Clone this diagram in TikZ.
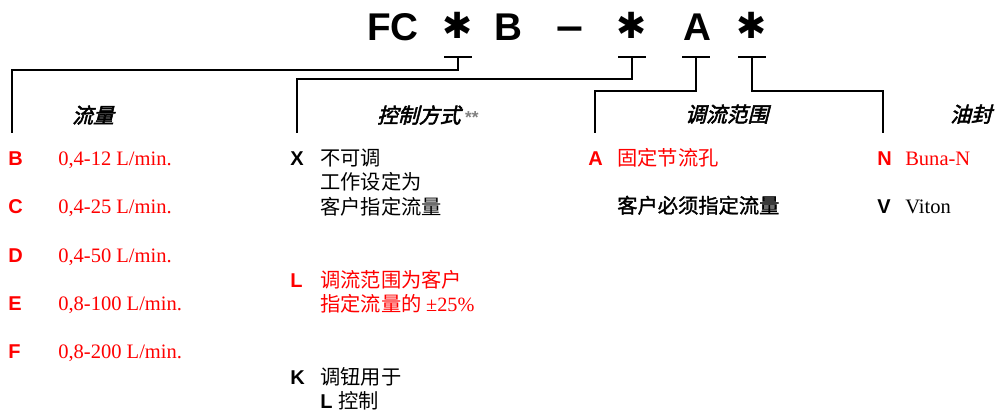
\documentclass[tikz,border=0pt]{standalone}
\usepackage{fontspec}
\setmainfont{Liberation Serif}
\newfontfamily\sanslbl{Liberation Sans}
\newfontfamily\cjkfont{Noto Sans CJK SC}
\newfontfamily\cjkbold[FakeBold=1.5]{Noto Sans CJK SC}
\newfontfamily\cjkhead[FakeBold=2.5,FakeSlant=0.25]{Noto Sans CJK SC}
\newfontfamily\starfont{DejaVu Sans}
\definecolor{codered}{RGB}{255,0,0}
\tikzset{
  tline/.style={line width=2.2pt, line join=miter},
  codechar/.style={font=\sanslbl\bfseries\fontsize{29}{32}\selectfont, inner sep=0pt, anchor=base},
  starchar/.style={font=\starfont\bfseries\fontsize{27}{30}\selectfont, inner sep=0pt},
  letterlbl/.style={font=\sanslbl\bfseries\fontsize{15}{18}\selectfont, inner sep=0pt, anchor=base west},
  valtxt/.style={font=\fontsize{15.4}{18}\selectfont, inner sep=0pt, anchor=base west},
  cjktxt/.style={font=\cjkfont\fontsize{15.2}{18}\selectfont, inner sep=0pt, anchor=base west},
  cjkstrong/.style={font=\cjkbold\fontsize{15.2}{18}\selectfont, inner sep=0pt, anchor=base west},
  headtxt/.style={font=\cjkhead\fontsize{15.6}{18}\selectfont, inner sep=0pt, anchor=base west},
}
\begin{document}
\begin{tikzpicture}[x=0.75pt,y=-0.75pt]
  \useasboundingbox (0,0) rectangle (995,412);
  % order code
  \node[codechar, anchor=base west] (fc) at (367,40) {FC};
  \node[starchar] (s1) at (458,25) {✱};
  \node[codechar] (cb) at (508,40) {B};
  \node[codechar] (dash) at (570,40) {\scalebox{1.25}[1.1]{–}};
  \node[starchar] (s2) at (632,25) {✱};
  \node[codechar] (ca) at (697,40) {A};
  \node[starchar] (s3) at (752,25) {✱};
  % tee marks
  \coordinate (b1) at (458,57);
  \coordinate (b2) at (632,57);
  \coordinate (b3) at (696,57);
  \coordinate (b4) at (752,57);
  \foreach \b in {b1,b2,b3,b4}
    \draw[tline] ([xshift=-10.5pt]\b) -- ([xshift=10.5pt]\b);
  % connectors
  \coordinate (k1) at (12,70);   \coordinate (e1) at (12,133);
  \coordinate (k2) at (297,79);  \coordinate (e2) at (297,133);
  \coordinate (k3) at (595,91);  \coordinate (e3) at (595,133);
  \coordinate (k4) at (883,91);  \coordinate (e4) at (883,133);
  \draw[tline] (b1) |- (k1) -- (e1);
  \draw[tline] (b2) |- (k2) -- (e2);
  \draw[tline] (b3) |- (k3) -- (e3);
  \draw[tline] (b4) |- (k4) -- (e4);
  % headings
  \node[headtxt] (hflow) at (72,123) {流量};
  \node[headtxt] (hctrl) at (377,123) {控制方式};
  \node[font=\sanslbl\bfseries\fontsize{13}{14}\selectfont, text=gray, inner sep=0pt, anchor=base west]
    (hstar) at ([xshift=3pt]hctrl.base east) {**};
  \node[headtxt] (hrange) at (685,122) {调流范围};
  \node[headtxt] (hseal) at (950,122) {油封};
  % flow column
  \node[letterlbl, text=codered] (lb) at (8,165) {B};
  \node[valtxt, text=codered] (vb) at (58,165) {0,4-12 L/min.};
  \node[letterlbl, text=codered] (lc) at (8,213) {C};
  \node[valtxt, text=codered] (vc) at (58,213) {0,4-25 L/min.};
  \node[letterlbl, text=codered] (ld) at (8,262) {D};
  \node[valtxt, text=codered] (vd) at (58,262) {0,4-50 L/min.};
  \node[letterlbl, text=codered] (le) at (8,310) {E};
  \node[valtxt, text=codered] (ve) at (58,310) {0,8-100 L/min.};
  \node[letterlbl, text=codered] (lf) at (8,358) {F};
  \node[valtxt, text=codered] (vf) at (58,358) {0,8-200 L/min.};
  % control column
  \node[letterlbl] (lx) at (290,165) {X};
  \node[cjktxt] (x1) at (320,165) {不可调};
  \node[cjktxt] (x2) at (320,189.5) {工作设定为};
  \node[cjktxt] (x3) at (320,214) {客户指定流量};
  \node[letterlbl, text=codered] (ll) at (290,287) {L};
  \node[cjktxt, text=codered] (l1) at (320,287) {调流范围为客户};
  \node[cjktxt, text=codered] (l2) at (320,311) {指定流量的 {\rmfamily ±25\%}};
  \node[letterlbl] (lk) at (290,384) {K};
  \node[cjktxt] (k1t) at (320,384) {调钮用于};
  \node[letterlbl] (k2l) at (320,408) {L};
  \node[cjktxt] (k2t) at ([xshift=4pt]k2l.base east) {控制};
  % range column
  \node[letterlbl, text=codered] (la) at (588,165) {A};
  \node[cjktxt, text=codered] (a1) at (617,165) {固定节流孔};
  \node[cjkstrong] (a2) at (617,213) {客户必须指定流量};
  % seal column
  \node[letterlbl, text=codered] (ln) at (877,165) {N};
  \node[valtxt, text=codered] (vn) at (905,165) {Buna-N};
  \node[letterlbl] (lv) at (877,213) {V};
  \node[valtxt] (vv) at (905,213) {Viton};
\end{tikzpicture}
\end{document}
